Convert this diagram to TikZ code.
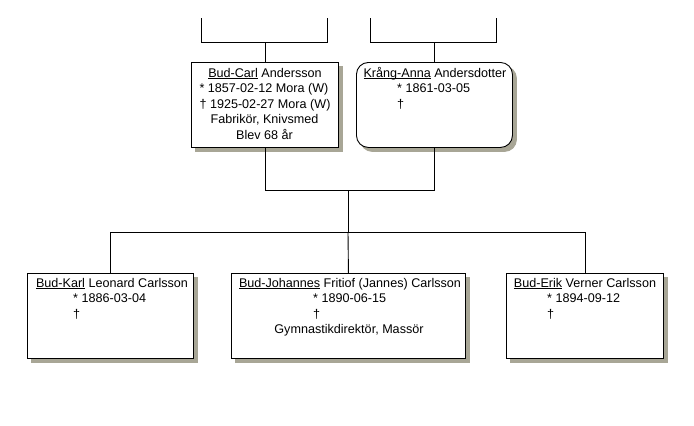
\documentclass[tikz,border=0pt]{standalone}
\usepackage{fontspec}
\setmainfont{Liberation Sans}
\definecolor{shadowc}{RGB}{168,166,150}
\newcommand\fs{\fontsize{12.6}{15}\selectfont}
\newcommand\uln[1]{\setbox0\hbox{#1}\rlap{\rule[-1.8pt]{\wd0}{0.8pt}}\box0\relax}
\tikzset{
  ln/.style={line width=0.9pt, draw=black},
  pbox/.style={draw, line width=0.9pt, fill=white, inner sep=0pt, anchor=north west,
    minimum height=85pt,
    preaction={fill=shadowc, draw=shadowc, transform canvas={xshift=4pt, yshift=-4pt}}},
  txt/.style={inner sep=0pt, anchor=base, font=\fs},
  txtl/.style={txt, anchor=base west},
}
\begin{document}
\begin{tikzpicture}[x=1pt,y=-1pt]
\useasboundingbox[fill=white] (0,0) rectangle (694,426);
% boxes
\node[pbox, minimum width=147pt] (bc) at (191,62) {};
\node[pbox, minimum width=156pt, rounded corners=12pt] (ka) at (356,62) {};
\node[pbox, minimum width=166pt] (k1) at (27,273) {};
\node[pbox, minimum width=234pt] (k2) at (231,273) {};
\node[pbox, minimum width=157pt] (k3) at (506,273) {};
% texts Bud-Carl
\node[txt] (bc1) at (265,77) {\uln{Bud-Carl} Andersson};
\node[txt] (bc2) at (264,92.5) {* 1857-02-12 Mora (W)};
\node[txt] (bc3) at (265,108) {\dag\ 1925-02-27 Mora (W)};
\node[txt] (bc4) at (264.5,123.5) {Fabrikör, Knivsmed};
\node[txt] (bc5) at (264.5,139) {Blev 68 år};
% Krång-Anna
\node[txt] (ka1) at (435,77) {\uln{Kr\aa ng-Anna} Andersdotter};
\node[txtl] (ka2) at (397,92.5) {* 1861-03-05};
\node[txtl] (ka3) at (397,108) {\dag};
% Karl
\node[txt] (k1a) at (112,287) {\uln{Bud-Karl} Leonard Carlsson};
\node[txtl] (k1b) at (73,302.5) {* 1886-03-04};
\node[txtl] (k1c) at (73,318) {\dag};
% Johannes
\node[txt] (k2a) at (350,287) {\uln{Bud-Johannes} Fritiof (Jannes) Carlsson};
\node[txtl] (k2b) at (313,302.5) {* 1890-06-15};
\node[txtl] (k2c) at (313,318) {\dag};
\node[txt] (k2d) at (349,333.5) {Gymnastikdirektör, Massör};
% Erik
\node[txt] (k3a) at (585,287) {\uln{Bud-Erik} Verner Carlsson};
\node[txtl] (k3b) at (547,302.5) {* 1894-09-12};
\node[txtl] (k3c) at (547,318) {\dag};
% connectors
\coordinate (fa1) at (201,18);
\coordinate (fa2) at (327,18);
\coordinate (ja1) at (201,42);
\coordinate (ja2) at (327,42);
\coordinate (mo1) at (370,18);
\coordinate (mo2) at (496,18);
\coordinate (jm1) at (370,42);
\coordinate (jm2) at (496,42);
\draw[ln] (fa1) -- (ja1) -- (ja2) -- (fa2);
\draw[ln] (mo1) -- (jm1) -- (jm2) -- (mo2);
\draw[ln] (bc.north) -- (bc.north |- ja1);
\draw[ln] (ka.north) -- (ka.north |- jm1);
\coordinate (cp) at (348,190);
\coordinate (sib) at (348,232);
\draw[ln] (bc.south) -- (bc.south |- cp) -- (ka.south |- cp) -- (ka.south);
\draw[ln] (cp) -- (sib);
\draw[ln] (k1.north) -- (k1.north |- sib) -- (k3.north |- sib) -- (k3.north);
\draw[ln] (sib) -- (k2.north);
\end{tikzpicture}
\end{document}
